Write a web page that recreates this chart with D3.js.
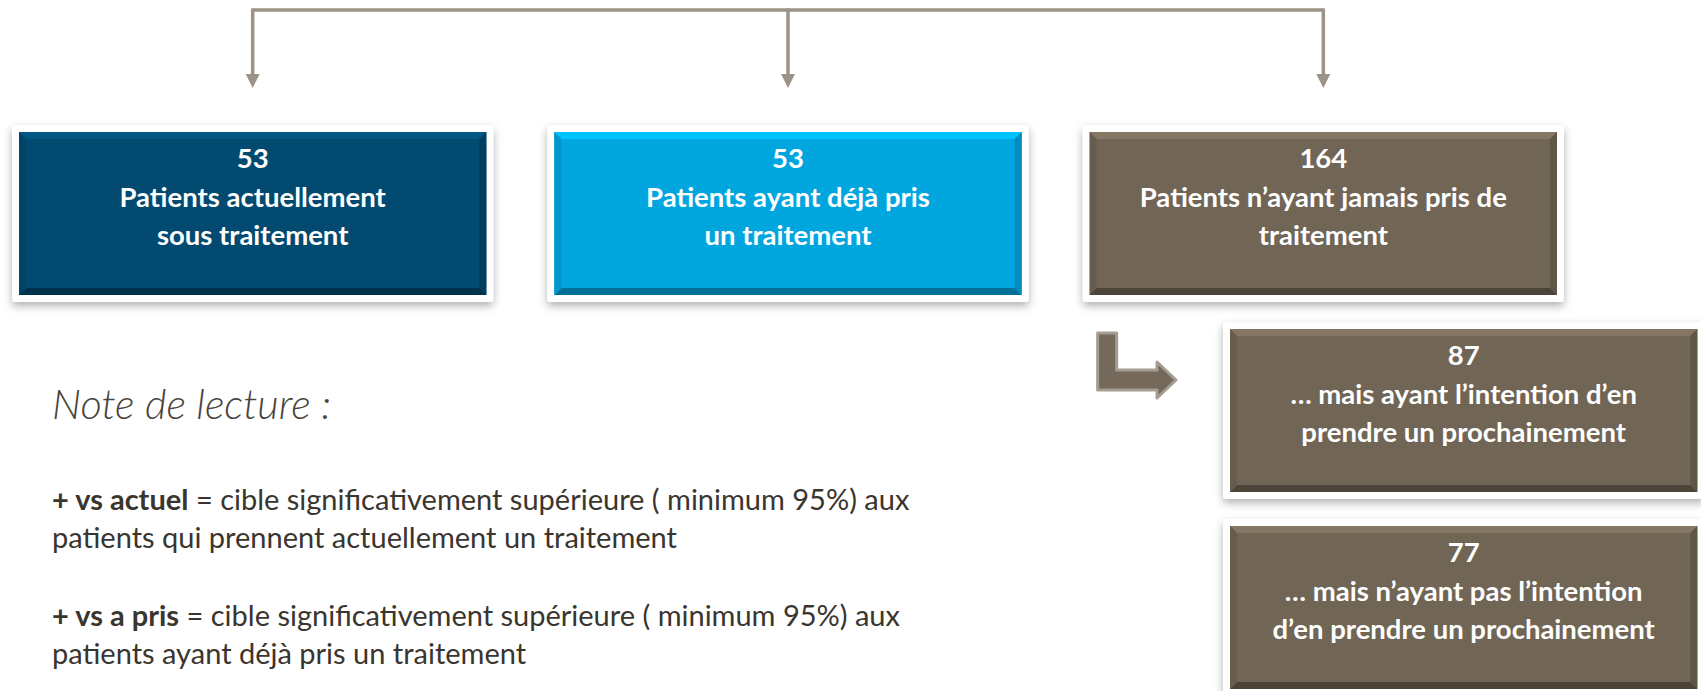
<!DOCTYPE html>
<meta charset="utf-8">
<head>
<title>Patients et traitement</title>
<script src="https://d3js.org/d3.v7.min.js"></script>
<style>
  body { margin: 0; background: #fff; }
  text { font-family: Lato, "Open Sans", sans-serif; }
</style>
</head>
<body>
<div id="home"></div>
<script>

    // data
    const topKeys = ["actuel", "aPris", "jamais"];
    const topValues = [53, 53, 164];
    const topLabels = [
        ["Patients actuellement", "sous traitement"],
        ["Patients ayant déjà pris", "un traitement"],
        ["Patients n’ayant jamais pris de", "traitement"]
    ];
    const topColors = ["#024a70", "#02a6df", "#716555"];

    const subKeys = ["intention", "pasIntention"];
    const subValues = [87, 77];
    const subLabels = [
        ["… mais ayant l’intention d’en", "prendre un prochainement"],
        ["… mais n’ayant pas l’intention", "d’en prendre un prochainement"]
    ];
    const subColor = "#716555";

    const noteTitle = "Note de lecture :";
    const noteItems = [
        ["+ vs actuel", " = cible significativement supérieure ( minimum 95%) aux", "patients qui prennent actuellement un traitement"],
        ["+ vs a pris", " = cible significativement supérieure ( minimum 95%) aux", "patients ayant déjà pris un traitement"]
    ];

    let w = 1701;
    let h = 691;
    let boxH = 163;

    let svg = d3.select("#home")
                .append("svg")
                .attr("width", w)
                .attr("height", h);

    let defs = svg.append("defs");
    defs.append("filter")
        .attr("id", "shadow")
        .attr("x", "-10%").attr("y", "-10%")
        .attr("width", "120%").attr("height", "130%")
        .append("feDropShadow")
        .attr("dx", 0).attr("dy", 4)
        .attr("stdDeviation", 4)
        .attr("flood-color", "#000")
        .attr("flood-opacity", 0.3);

    let x = d3.scaleBand()
              .domain(topKeys)
              .range([19, 1557])
              .paddingInner(0.127);

    let ySub = d3.scaleBand()
                 .domain(subKeys)
                 .range([329, 689])
                 .paddingInner(0.173);

    let topY = 132;
    let subX = 1230;
    let subW = x.bandwidth();

    // box with white frame, bevel and text
    function drawBox(g, bx, by, bw, bh, color, value, lines) {
        g.append("rect")
         .attr("x", bx - 7).attr("y", by - 7)
         .attr("width", bw + 14).attr("height", bh + 14)
         .attr("rx", 3)
         .attr("fill", "#fff")
         .attr("filter", "url(#shadow)");

        g.append("rect")
         .attr("x", bx).attr("y", by)
         .attr("width", bw).attr("height", bh)
         .attr("fill", color);

        let b = 7;
        let c = d3.color(color);
        let bevels = [
            { pts: [[bx, by], [bx + bw, by], [bx + bw - b, by + b], [bx + b, by + b]], col: c.brighter(0.45) },
            { pts: [[bx, by + bh], [bx + bw, by + bh], [bx + bw - b, by + bh - b], [bx + b, by + bh - b]], col: c.darker(1.1) },
            { pts: [[bx, by], [bx + b, by + b], [bx + b, by + bh - b], [bx, by + bh]], col: c.darker(0.25) },
            { pts: [[bx + bw, by], [bx + bw - b, by + b], [bx + bw - b, by + bh - b], [bx + bw, by + bh]], col: c.darker(0.45) }
        ];
        g.selectAll("polygon.bevel")
         .data(bevels)
         .enter()
         .append("polygon")
         .attr("class", "bevel")
         .attr("points", (d) => d.pts.map((p) => p.join(",")).join(" "))
         .attr("fill", (d) => d.col);

        let t = g.append("text")
                 .attr("x", bx + bw / 2)
                 .attr("y", by + 36)
                 .attr("text-anchor", "middle")
                 .attr("fill", "#fff")
                 .style("font-weight", "bold")
                 .style("font-size", "27.5px");
        [String(value)].concat(lines).forEach((line, i) => {
            t.append("tspan")
             .attr("x", bx + bw / 2)
             .attr("dy", i === 0 ? 0 : 38.5)
             .text(line);
        });
    }

    // connector at the top
    let conn = svg.append("g")
                  .attr("stroke", "#9b9386")
                  .attr("stroke-width", 3.5)
                  .attr("fill", "none");

    let centers = topKeys.map((k) => x(k) + x.bandwidth() / 2);
    conn.append("line")
        .attr("x1", d3.min(centers)).attr("x2", d3.max(centers))
        .attr("y1", 10).attr("y2", 10);

    conn.selectAll("line.drop")
        .data(centers)
        .enter()
        .append("line")
        .attr("class", "drop")
        .attr("x1", (d) => d).attr("x2", (d) => d)
        .attr("y1", 8.5).attr("y2", 76);

    svg.selectAll("path.head")
       .data(centers)
       .enter()
       .append("path")
       .attr("class", "head")
       .attr("d", (d) => `M${d - 7},74 L${d + 7},74 L${d},88 Z`)
       .attr("fill", "#9b9386");

    // top boxes
    topKeys.forEach((k, i) => {
        drawBox(svg.append("g"), x(k), topY, x.bandwidth(), boxH, topColors[i], topValues[i], topLabels[i]);
    });

    // sub boxes
    subKeys.forEach((k, i) => {
        drawBox(svg.append("g"), subX, ySub(k), subW, ySub.bandwidth(), subColor, subValues[i], subLabels[i]);
    });

    // bent arrow to the first sub box
    let ax = x("jamais") + 8;
    let ay = ySub("intention") + 4;
    let tip = subX - 54;
    svg.append("path")
       .attr("d", `M${ax},${ay} L${ax + 19},${ay} L${ax + 19},${ay + 37} L${tip - 19},${ay + 37}
                   L${tip - 19},${ay + 29} L${tip},${ay + 47} L${tip - 19},${ay + 65} L${tip - 19},${ay + 57}
                   L${ax},${ay + 57} Z`)
       .attr("fill", "#74695b")
       .attr("stroke", "#a59d91")
       .attr("stroke-width", 3)
       .attr("stroke-linejoin", "round");

    // reading note
    svg.append("text")
       .attr("x", 52)
       .attr("y", 419)
       .attr("fill", "#4a443c")
       .style("font-style", "italic")
       .style("font-weight", 300)
       .style("font-size", "41.5px")
       .text(noteTitle);

    noteItems.forEach((item, i) => {
        let y0 = 510 + i * 116;
        let t = svg.append("text")
                   .attr("x", 52)
                   .attr("y", y0)
                   .attr("fill", "#3a352e")
                   .style("font-size", "29px");
        t.append("tspan").style("font-weight", "bold").text(item[0]);
        t.append("tspan").text(item[1]);
        t.append("tspan").attr("x", 52).attr("dy", 37.5).text(item[2]);
    });

</script>
</body>
